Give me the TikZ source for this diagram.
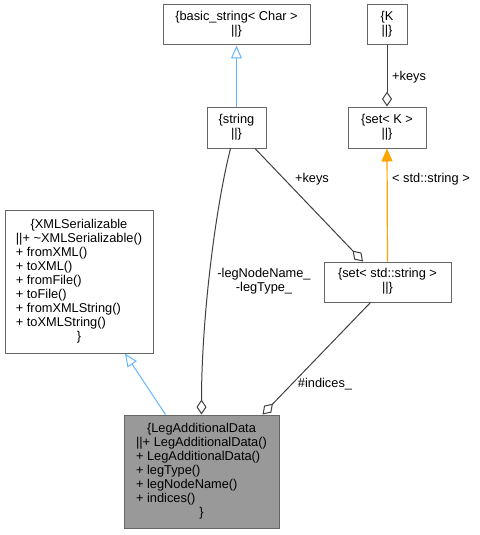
\documentclass[tikz,border=0pt]{standalone}
\usepackage{fontspec}
\setmainfont{Liberation Sans}
\usetikzlibrary{arrows.meta,calc}
\definecolor{nodeborder}{HTML}{666666}
\definecolor{focusfill}{HTML}{999999}
\definecolor{inhblue}{HTML}{63B8FF}
\definecolor{usegray}{HTML}{404040}
\definecolor{tmplorange}{HTML}{FFA500}
\newcommand\dfont{\fontsize{12.8}{14}\selectfont}
\tikzset{
  cls/.style={draw=nodeborder, line width=1pt, fill=white, inner sep=0pt, rectangle, font=\dfont},
  focus/.style={cls, fill=focusfill},
  inh/.style={draw=inhblue, line width=1pt, -{Triangle[open, length=13pt, width=11pt, line width=1pt]}},
  usage/.style={draw=usegray, line width=1pt, -{Diamond[open, length=15pt, width=10pt, line width=1pt]}},
  tmpl/.style={draw=tmplorange, line width=1.2pt, -{Triangle[length=13pt, width=11pt]}},
  lbl/.style={font=\dfont, inner sep=0pt}
}
\begin{document}
\begin{tikzpicture}[x=1pt, y=-1pt]
\useasboundingbox[fill=white] (0,0) rectangle (479,535);

\node[cls, minimum width=147pt, minimum height=40pt] (basic) at (236.5,25)
  {\begin{tabular}{@{}c@{}}\{basic\_string< Char >\\||\}\end{tabular}};
\node[cls, minimum width=40pt, minimum height=40pt] (K) at (387,25)
  {\begin{tabular}{@{}c@{}}\{K\\||\}\end{tabular}};
\node[cls, minimum width=59pt, minimum height=41pt] (string) at (236.5,127.5)
  {\begin{tabular}{@{}c@{}}\{string\\||\}\end{tabular}};
\node[cls, minimum width=78pt, minimum height=41pt] (setK) at (387,127.5)
  {\begin{tabular}{@{}c@{}}\{set< K >\\||\}\end{tabular}};
\node[cls, minimum width=127pt, minimum height=40pt] (setstr) at (387.5,282)
  {\begin{tabular}{@{}c@{}}\{set< std::string >\\||\}\end{tabular}};
\node[cls, minimum width=148pt, minimum height=143pt] (xml) at (79,281.5)
  {\begin{tabular}{@{}l@{}}\multicolumn{1}{@{}c@{}}{\{XMLSerializable}\\
   ||+ \textasciitilde XMLSerializable()\\
   + fromXML()\\
   + toXML()\\
   + fromFile()\\
   + toFile()\\
   + fromXMLString()\\
   + toXMLString()\\
   \multicolumn{1}{@{}c@{}}{\}}\end{tabular}};
\node[focus, minimum width=155pt, minimum height=113pt] (leg) at (201.5,471.5)
  {\begin{tabular}{@{}l@{}}\multicolumn{1}{@{}c@{}}{\{LegAdditionalData}\\
   ||+ LegAdditionalData()\\
   + LegAdditionalData()\\
   + legType()\\
   + legNodeName()\\
   + indices()\\
   \multicolumn{1}{@{}c@{}}{\}}\end{tabular}};

% inheritance
\draw[inh] (string.north) -- (basic.south);
\draw[inh] ([xshift=-36pt]leg.north) -- ([xshift=46pt]xml.south);
% template instantiation
\draw[tmpl] (setstr.north) -- (setK.south);
% usage
\draw[usage] (K.south) -- (setK.north);
\draw[usage] ([xshift=18.5pt]string.south) -- ([xshift=-24.5pt]setstr.north);
\draw[usage] ([xshift=-6pt]string.south) .. controls (215,210) and (201.5,320) .. (leg.north);
\draw[usage] ([xshift=-17pt]setstr.south) -- ([xshift=61pt]leg.north);

% labels
\node[lbl, anchor=mid west] (l1) at (392,78) {+keys};
\node[lbl, anchor=mid west] (l2) at (392,180) {< std::string >};
\node[lbl, anchor=mid] (l3) at (312,180) {+keys};
\node[lbl] (l4) at (264,282) {\begin{tabular}{@{}c@{}}-legNodeName\_\\-legType\_\end{tabular}};
\node[lbl, anchor=mid] (l5) at (325,385) {\#indices\_};
\end{tikzpicture}
\end{document}
